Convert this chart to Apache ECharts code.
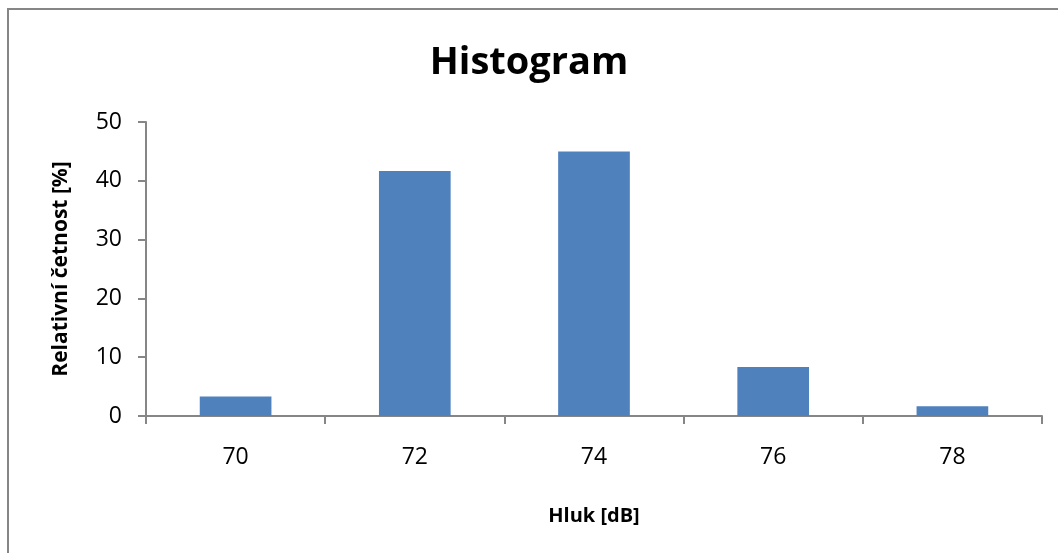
<!DOCTYPE html>
<html>
<head>
<meta charset="utf-8">
<script src="https://cdn.jsdelivr.net/npm/echarts@6/dist/echarts.min.js"></script>
<style>
  html, body { margin: 0; padding: 0; background: #fff; }
  #chart { width: 1058px; height: 553px; }
</style>
</head>
<body>
<div id="chart"></div>
<script>
// Noise levels (dB) and relative frequency of each class (%)
const categories = ['70', '72', '74', '76', '78'];
const relFreq = [3.33, 41.67, 45.0, 8.33, 1.67];
const yTicks = { min: 0, max: 50, interval: 10 };

const FONT = '"Open Sans", "Noto Sans", sans-serif';
const AXIS_GRAY = '#868686';

const chart = echarts.init(document.getElementById('chart'), null, { renderer: 'canvas' });

chart.setOption({
  animation: false,
  backgroundColor: '#ffffff',
  title: {
    text: 'Histogram',
    left: 'center',
    top: 39,
    textStyle: { fontFamily: FONT, fontSize: 38, fontWeight: 'bold', color: '#000' }
  },
  graphic: [{
    type: 'rect',
    shape: { x: 8, y: 9, width: 1100, height: 600 },
    style: { fill: 'none', stroke: AXIS_GRAY, lineWidth: 2 },
    silent: true,
    z: -1
  }],
  grid: { left: 146, right: 16, top: 122, bottom: 137 },
  xAxis: {
    type: 'category',
    data: categories,
    name: 'Hluk [dB]',
    nameLocation: 'middle',
    nameGap: 90,
    nameTextStyle: { fontFamily: FONT, fontSize: 20, fontWeight: 'bold', color: '#000' },
    axisLine: { lineStyle: { color: AXIS_GRAY, width: 2 } },
    axisTick: { show: true, length: 8, lineStyle: { color: AXIS_GRAY, width: 2 } },
    axisLabel: { fontFamily: FONT, fontSize: 23, color: '#000', margin: 30 }
  },
  yAxis: {
    type: 'value',
    min: yTicks.min,
    max: yTicks.max,
    interval: yTicks.interval,
    name: 'Relativní četnost [%]',
    nameLocation: 'middle',
    nameGap: 74,
    nameTextStyle: { fontFamily: FONT, fontSize: 21, fontWeight: 'bold', color: '#000' },
    axisLine: { show: true, lineStyle: { color: AXIS_GRAY, width: 2 } },
    axisTick: { show: true, length: 8, lineStyle: { color: AXIS_GRAY, width: 2 } },
    axisLabel: { fontFamily: FONT, fontSize: 23, color: '#000', margin: 24 },
    splitLine: { show: false }
  },
  series: [{
    type: 'bar',
    data: relFreq,
    barWidth: '40%',
    itemStyle: { color: '#4F81BD' }
  }]
});
</script>
</body>
</html>
